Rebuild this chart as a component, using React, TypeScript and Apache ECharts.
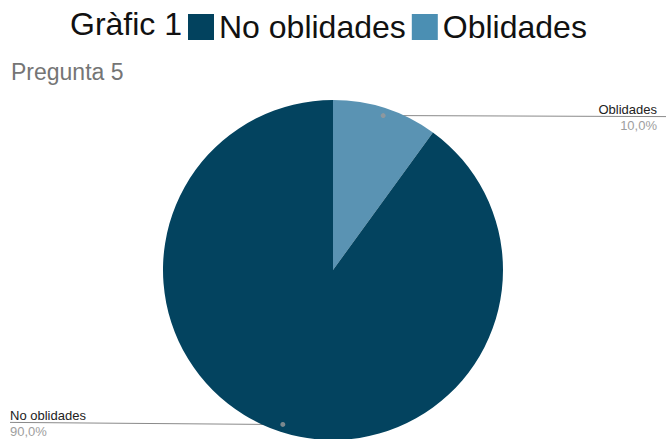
import React, { useEffect, useRef } from "react";
import * as echarts from "echarts";

const categories = ["Oblidades", "No oblidades"];
const values = [10, 90];
const sliceColors = ["#5a93b3", "#03435f"];
const legendOrder = ["No oblidades", "Oblidades"];
const legendColors = ["#02425e", "#4b8fb3"];
const chartTitle = "Gràfic 1";
const subTitle = "Pregunta 5";

const CX = 333;
const CY = 270;
const R = 170;
const DOT_R = 0.955;

export default function App() {
  const ref = useRef<HTMLDivElement>(null);
  useEffect(() => {
    document.body.style.margin = "0";
    const chart = echarts.init(ref.current!, undefined, { renderer: "svg" });
    const total = values.reduce((a, b) => a + b, 0);
    const midFrac = values.map((v, i) => {
      const before = values.slice(0, i).reduce((a, b) => a + b, 0);
      return (before + v / 2) / total;
    });
    const dotPos = (i: number) => {
      const ang = Math.PI / 2 - midFrac[i] * Math.PI * 2;
      return [CX + R * DOT_R * Math.cos(ang), CY - R * DOT_R * Math.sin(ang)];
    };
    const isRight = (i: number) => Math.cos(Math.PI / 2 - midFrac[i] * Math.PI * 2) > 0;

    chart.setOption({
      animation: false,
      textStyle: { fontFamily: "'Liberation Sans', Arial, sans-serif" },
      title: [
        {
          text: chartTitle,
          left: 70,
          top: 8,
          padding: 0,
          textStyle: { fontSize: 32, fontWeight: "normal", color: "#111" },
        },
        {
          text: subTitle,
          left: 11,
          top: 60,
          padding: 0,
          textStyle: { fontSize: 23, fontWeight: "normal", color: "#757575" },
        },
      ],
      legend: {
        left: 188,
        top: 11,
        padding: 0,
        itemWidth: 26,
        itemHeight: 26,
        itemGap: 6,
        icon: "rect",
        selectedMode: false,
        textStyle: { fontSize: 32, color: "#111" },
        data: legendOrder.map((n, i) => ({ name: n, itemStyle: { color: legendColors[i] } })),
      },
      polar: { center: [CX, CY], radius: R },
      radiusAxis: { min: 0, max: 1, show: false },
      angleAxis: { type: "value", min: 0, max: total, startAngle: 90, clockwise: true, show: false },
      series: [
        {
          type: "pie",
          center: [CX, CY],
          radius: R,
          startAngle: 90,
          clockwise: true,
          avoidLabelOverlap: false,
          silent: true,
          itemStyle: { borderWidth: 0 },
          data: categories.map((c, i) => ({ name: c, value: values[i], itemStyle: { color: sliceColors[i] } })),
          label: {
            show: true,
            position: "outside",
            formatter: (p: any) => {
              const s = isRight(p.dataIndex) ? "r" : "l";
              return `{n${s}|${p.name}}\n{p${s}|${p.percent.toFixed(1).replace(".", ",")}%}`;
            },
            rich: {
              nr: { fontSize: 13, color: "#222", lineHeight: 18, align: "right" },
              pr: { fontSize: 13, color: "#9e9e9e", lineHeight: 14, align: "right" },
              nl: { fontSize: 13, color: "#222", lineHeight: 18, align: "left" },
              pl: { fontSize: 13, color: "#9e9e9e", lineHeight: 14, align: "left" },
            },
          },
          labelLine: { show: true, lineStyle: { color: "#8a8a8a", width: 1 } },
          labelLayout: (params: any) => {
            const i = params.dataIndex;
            const p = dotPos(i);
            if (isRight(i)) {
              return {
                x: 657,
                y: p[1] + 1,
                align: "right",
                verticalAlign: "middle",
                labelLinePoints: [p, [p[0] + 20, p[1]], [666, p[1] + 1]],
              };
            }
            return {
              x: 10,
              y: p[1] - 2,
              align: "left",
              verticalAlign: "middle",
              labelLinePoints: [p, [p[0] - 20, p[1]], [10, p[1] - 2]],
            };
          },
        },
        {
          type: "scatter",
          coordinateSystem: "polar",
          symbolSize: 5,
          silent: true,
          z: 10,
          itemStyle: { color: "#9a9a9a" },
          data: values.map((_, i) => [DOT_R, midFrac[i] * total]),
        },
      ],
    });
    return () => chart.dispose();
  }, []);
  return <div ref={ref} style={{ width: 666, height: 439 }} />;
}
